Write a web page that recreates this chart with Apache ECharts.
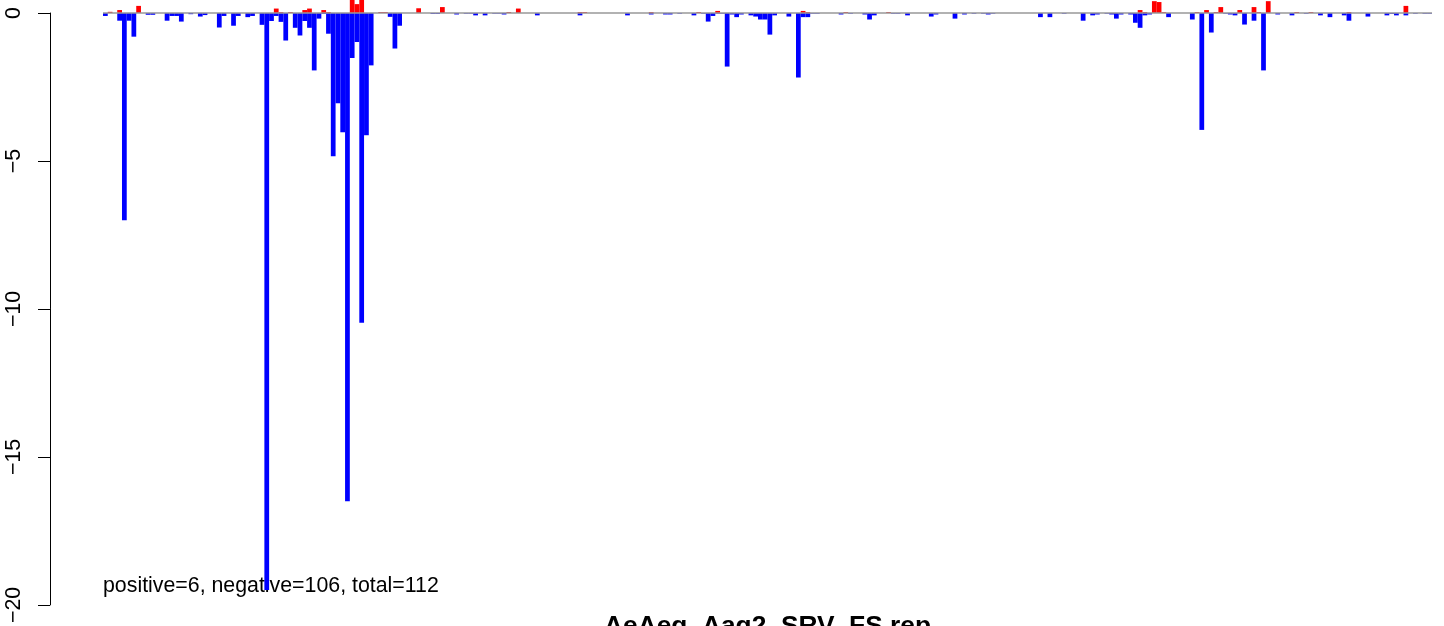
<!DOCTYPE html>
<html><head><meta charset="utf-8">
<script src="https://cdn.jsdelivr.net/npm/echarts@6/dist/echarts.min.js"></script>
<style>html,body{margin:0;padding:0;background:#fff}#c{width:1444px;height:626px}</style>
</head><body><div id="c"></div>
<script>
// Negative (blue) values per position
const negValues = [
 -0.1,0,0,-0.26,-7.0,-0.26,-0.8,0,0,-0.06,-0.06,0,0,-0.26,-0.1,-0.1,-0.29,0,-0.04,0,
 -0.12,-0.07,0,0,-0.49,-0.1,0,-0.43,-0.1,0,-0.14,-0.1,0,-0.4,-19.5,-0.27,-0.1,-0.3,-0.93,0,
 -0.5,-0.76,-0.27,-0.5,-1.94,-0.19,-0.03,-0.7,-4.84,-3.05,-4.03,-16.5,-1.52,-0.98,-10.47,-4.13,-1.77,0,0,0,
 -0.13,-1.2,-0.43,0,0,0,0,0,0,-0.03,-0.03,0,0,0,-0.05,0,-0.02,-0.02,-0.08,0,
 -0.08,0,-0.02,-0.02,-0.05,0,0,0,0,0,0,-0.08,0,0,0,0,0,0,0,0,
 -0.08,0,0,0,0,0,0,0,0,0,-0.08,0,0,0,0,-0.05,0,0,-0.05,-0.05,
 0,-0.02,0,0,-0.08,0,-0.02,-0.29,-0.1,-0.02,-0.02,-1.81,-0.05,-0.14,-0.05,0,-0.08,-0.12,-0.22,-0.22,
 -0.73,-0.08,0,0,-0.12,0,-2.18,-0.14,-0.14,-0.02,-0.02,0,0,0,0,-0.05,0,-0.02,0,0,
 -0.05,-0.22,-0.08,0,0,0,-0.02,-0.02,0,-0.08,0,0,0,0,-0.12,-0.05,0,0,0,-0.19,
 0,-0.05,0,-0.02,0,-0.02,-0.05,-0.02,0,0,0,0,0,0,0,0,0,-0.14,0,-0.14,
 0,0,-0.02,0,0,0,-0.26,0,-0.08,-0.05,0,-0.02,-0.05,-0.19,-0.05,0,-0.05,-0.33,-0.5,-0.08,
 -0.05,0,0,0,-0.14,0,0,0,0,-0.22,0,-3.95,0,-0.66,0,0,-0.02,-0.05,-0.08,0,
 -0.39,0,-0.26,0,-1.94,0,0,-0.05,0,0,-0.08,0,0,-0.02,0,0,-0.08,0,-0.14,0,
 0,-0.08,-0.26,0,0,0,-0.12,0,0,0,-0.08,-0.03,-0.08,0,-0.08,0,-0.02,0,-0.02,-0.02
];
// Positive (red) values per position
const posValues = [
 0,0.04,0,0.1,0,0,0,0.24,0,0,0,0,0,0,0,0,0,0,0,0,
 0,0,0,0,0,0,0,0,0,0,0,0,0,0,0,0,0.15,0.03,0,0.03,
 0,0,0.1,0.15,0,0,0.1,0.03,0,0,0,0,0.5,0.3,0.5,0,0,0,0.03,0.03,
 0,0,0,0,0,0,0.16,0,0,0,0,0.2,0,0,0,0,0,0,0,0,
 0,0,0,0,0,0.03,0,0.15,0,0,0,0,0,0,0,0,0,0,0,0,
 0.03,0.03,0,0,0,0,0,0,0,0,0,0,0,0,0,0.03,0,0,0,0,
 0,0,0,0,0,0.03,0,0,0,0.07,0,0,0,0,0,0,0,0,0,0,
 0,0,0,0,0,0,0,0.07,0.03,0,0,0,0,0,0,0,0.03,0,0,0,
 0,0,0,0,0,0.03,0,0,0,0,0,0,0,0,0,0,0,0,0,0,
 0,0,0,0,0,0,0,0,0,0,0,0,0,0,0,0,0,0,0,0,
 0,0,0,0,0,0,0,0,0,0,0,0,0,0,0,0,0,0,0.1,0.03,
 0,0.4,0.37,0.03,0,0,0,0,0,0,0.03,0,0.1,0,0.03,0.2,0,0,0,0.1,
 0,0,0.2,0.03,0,0.4,0,0,0,0,0,0.03,0,0,0.03,0,0,0,0,0,
 0,0,0.03,0,0,0,0,0,0,0,0,0,0,0,0.24,0,0,0,0,0
];
const categories = negValues.map((_, i) => String(i + 1));
const yTicks = [0, -5, -10, -15, -20];
const titleText = 'AeAeg_Aag2_SRV_FS rep';
const noteText = 'positive=6, negative=106, total=112';

const FONT = '"Liberation Sans", Arial, Helvetica, sans-serif';
const chart = echarts.init(document.getElementById('c'), null, {renderer: 'canvas'});
chart.setOption({
  animation: false,
  backgroundColor: '#ffffff',
  grid: {left: 103, right: 12, top: 13, bottom: 19, containLabel: false},
  xAxis: {type: 'category', data: categories, show: false, boundaryGap: true},
  yAxis: {
    type: 'value', min: yTicks[yTicks.length - 1], max: yTicks[0], interval: 5, offset: 53,
    axisLine: {show: true, lineStyle: {color: '#000', width: 1}},
    axisTick: {show: true, length: 12, lineStyle: {color: '#000', width: 1}},
    splitLine: {show: false},
    axisLabel: {
      rotate: 90, margin: 25, fontSize: 21.33, color: '#000', fontFamily: FONT,
      formatter: v => String(v).replace('-', '\u2212')
    }
  },
  series: [
    {type: 'bar', data: negValues, barWidth: '100%', barGap: '-100%', clip: false,
     itemStyle: {color: '#0000ff'}, z: 2},
    {type: 'bar', data: posValues, barWidth: '100%', barGap: '-100%', clip: false,
     itemStyle: {color: '#ff0000'}, z: 2,
     markLine: {silent: true, symbol: 'none', label: {show: false},
       lineStyle: {color: '#999999', width: 1.5, type: 'solid'}, data: [{yAxis: 0}]}}
  ],
  graphic: [
    {type: 'text', x: 103, y: 576, z: 1,
     style: {text: noteText, font: '21.33px ' + FONT, fill: '#000', align: 'left', verticalAlign: 'top'}},
    {type: 'text', x: 767.5, y: 614, z: 1,
     style: {text: titleText, font: 'bold 26.3px ' + FONT, fill: '#000', align: 'center', verticalAlign: 'top'}}
  ]
});
</script></body></html>
